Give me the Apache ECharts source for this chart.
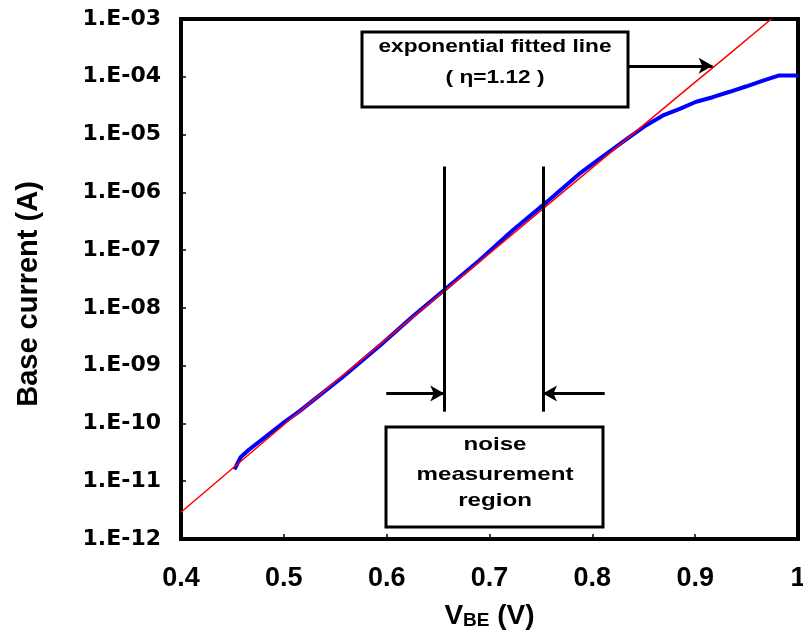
<!DOCTYPE html>
<html><head><meta charset="utf-8">
<script src="https://cdn.jsdelivr.net/npm/echarts@6/dist/echarts.min.js"></script>
<style>html,body{margin:0;padding:0;background:#fff}#c{width:803px;height:635px}</style>
</head><body><div id="c"></div>
<script>
// Measured base current (blue)
const vbe = [0.452, 0.458, 0.466, 0.4825, 0.4987, 0.515, 0.531, 0.557, 0.593, 0.625, 0.656, 0.690, 0.7226, 0.752, 0.7875, 0.807, 0.820, 0.836, 0.8525, 0.8687, 0.885, 0.901, 0.917, 0.9336, 0.950, 0.966, 0.981, 1.0];
const ib  = [1.6e-11, 2.6e-11, 3.5e-11, 5.9e-11, 1.0e-10, 1.62e-10, 2.72e-10, 6.3e-10, 2.2e-9, 7.0e-9, 2.04e-8, 6.6e-8, 2.2e-7, 6.0e-7, 2.1e-6, 3.8e-6, 5.6e-6, 9.0e-6, 1.45e-5, 2.14e-5, 2.78e-5, 3.7e-5, 4.43e-5, 5.5e-5, 6.85e-5, 8.6e-5, 1.05e-4, 1.05e-4];
// Exponential fitted line (red)
const fitV = [0.4, 0.5, 0.6, 0.7, 0.8, 0.9, 0.927, 0.974];
const fitI = [2.9e-12, 9.5e-11, 2.9e-9, 8.8e-8, 2.67e-6, 8.1e-5, 2.0e-4, 1.0e-3];
// Tick labels
const xTickLabels = ['0.4', '0.5', '0.6', '0.7', '0.8', '0.9', '1'];
const yTickLabels = ['1.E-12', '1.E-11', '1.E-10', '1.E-09', '1.E-08', '1.E-07', '1.E-06', '1.E-05', '1.E-04', '1.E-03'];
// Annotations (data coordinates)
const regionV = [0.656, 0.752];
const regionI = [1.6e-10, 2.8e-6];
const arrowI = 3.3e-10;
const arrowFromV = [0.5996, 0.812];
const fitArrowV = [0.8333, 0.917];
const fitArrowI = 1.55e-4;

const chart = echarts.init(document.getElementById('c'), null, {renderer: 'canvas'});
const font = '"Liberation Sans", Arial, sans-serif';
const blueData = vbe.map((v, i) => [v, ib[i]]);
const redData = fitV.map((v, i) => [v, fitI[i]]);
const annText = (text, x, y, size, sx) => ({
  type: 'text', z: 11, x: x, y: y, scaleX: sx, scaleY: 1,
  style: {text: text, x: 0, y: 0, align: 'center', verticalAlign: 'middle', font: 'bold ' + size + 'px ' + font, fill: '#000'}
});

chart.setOption({
  animation: false,
  backgroundColor: '#fff',
  grid: {left: 181, right: 5, top: 19, bottom: 96, outerBoundsMode: 'none', containLabel: false,
    show: true, borderColor: '#000', borderWidth: 4, backgroundColor: 'transparent'},
  xAxis: {
    type: 'value', min: 0.4, max: 1, interval: 0.1,
    name: '{v|V}{s|BE}{v| (V)}', nameLocation: 'middle', nameGap: 63, nameMoveOverlap: false,
    nameTextStyle: {rich: {
      v: {fontFamily: font, fontWeight: 'bold', fontSize: 28, color: '#000'},
      s: {fontFamily: font, fontWeight: 'bold', fontSize: 19, color: '#000', verticalAlign: 'bottom'}}},
    axisLine: {show: true, lineStyle: {color: '#000', width: 4}},
    axisTick: {show: true, inside: true, length: 5, lineStyle: {color: '#000', width: 1.5}},
    splitLine: {show: false},
    axisLabel: {margin: 26, color: '#000', fontFamily: font, fontWeight: 'bold', fontSize: 27,
      formatter: v => xTickLabels[Math.round((v - 0.4) * 10)] || ''}
  },
  yAxis: {
    type: 'log', logBase: 10, min: 1e-12, max: 1e-3,
    name: 'Base current (A)', nameLocation: 'middle', nameGap: 138, nameRotate: 90, nameMoveOverlap: false,
    nameTextStyle: {fontFamily: font, fontWeight: 'bold', fontSize: 29, color: '#000', padding: [0, 30, 0, 0]},
    axisLine: {show: true, lineStyle: {color: '#000', width: 4}},
    axisTick: {show: true, inside: true, length: 5, lineStyle: {color: '#000', width: 1.5}},
    minorTick: {show: false},
    splitLine: {show: false},
    axisLabel: {margin: 20, color: '#000', fontFamily: '"DejaVu Sans", sans-serif', fontWeight: 'bold', fontSize: 22,
      formatter: v => yTickLabels[Math.round(Math.log10(v)) + 12] || ''}
  },
  series: [
    {type: 'line', data: blueData, showSymbol: false, lineStyle: {color: '#0000FF', width: 4}, z: 2},
    {type: 'line', data: redData, showSymbol: false, lineStyle: {color: '#FF0000', width: 1.5}, z: 3},
    {type: 'line', data: [], z: 4,
      markLine: {silent: true, symbol: ['none', 'none'], label: {show: false}, animation: false,
        lineStyle: {color: '#000', width: 3, type: 'solid'},
        data: regionV.map(v => [{coord: [v, regionI[0]]}, {coord: [v, regionI[1]]}])}},
    {type: 'line', data: [], z: 4,
      markLine: {silent: true, symbol: ['none', 'arrow'], symbolSize: [12, 14], label: {show: false}, animation: false,
        lineStyle: {color: '#000', width: 3, type: 'solid'},
        data: [
          [{coord: [arrowFromV[0], arrowI]}, {coord: [regionV[0], arrowI]}],
          [{coord: [arrowFromV[1], arrowI]}, {coord: [regionV[1], arrowI]}],
          [{coord: [fitArrowV[0], fitArrowI]}, {coord: [fitArrowV[1], fitArrowI]}]
        ]}}
  ],
  graphic: [
    {type: 'rect', z: 10, shape: {x: 362, y: 32, width: 266, height: 75}, style: {fill: '#fff', stroke: '#000', lineWidth: 3}},
    annText('exponential fitted line', 495, 47, 18, 1.26),
    annText('( η=1.12 )', 495, 78, 18, 1.26),
    {type: 'rect', z: 10, shape: {x: 386, y: 427, width: 217, height: 100}, style: {fill: '#fff', stroke: '#000', lineWidth: 3}},
    annText('noise', 495, 445, 19, 1.27),
    annText('measurement', 495, 475, 19, 1.27),
    annText('region', 495, 501, 19, 1.27)
  ]
});
</script>
</body></html>
